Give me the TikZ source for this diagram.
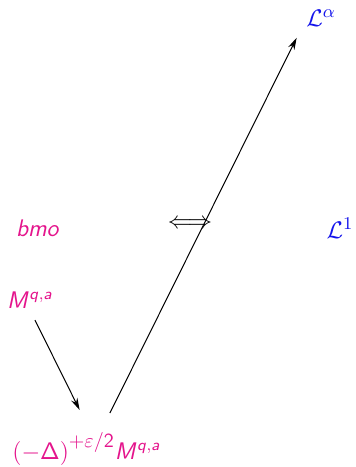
\documentclass[tikz,border=0pt]{standalone}
\usetikzlibrary{arrows.meta}
\DeclareMathAlphabet{\mathsfit}{OT1}{cmss}{m}{sl}
\definecolor{mag}{RGB}{228,20,140}
\definecolor{blu}{RGB}{20,20,235}
\begin{document}
\begin{tikzpicture}[x=0.5pt,y=-0.5pt,
  lbl/.style={inner sep=1pt,font=\fontsize{12}{14}\selectfont},
  pink/.style={lbl,text=mag},
  bluel/.style={lbl,text=blu,font=\fontsize{13}{15}\selectfont},
  conn/.style={line width=0.5pt,-{Stealth[length=6pt,width=3.4pt]}}]
\useasboundingbox (0,0) rectangle (355,467);
\node[bluel] (La) at (321,18) {$\mathcal{L}^{\alpha}$};
\node[pink] (bmo) at (38,228) {$\mathsfit{bmo}$};
\node[lbl] (iff) at (190,224) {$\Longleftrightarrow$};
\node[bluel] (L1) at (340,228) {$\mathcal{L}^{1}$};
\node[pink] (Mqa) at (30,300) {$\mathsfit{M}^{\mathsfit{q},\mathsfit{a}}$};
\node[pink,anchor=base west] (D) at (10,459) {$\mathsf{(}{-}\mathsf{\Delta}\mathsf{)}^{\mbox{\fontsize{10}{12}\selectfont$+\varepsilon/\mathsf{2}$}}\mathsfit{M}^{\mathsfit{q},\mathsfit{a}}$};
\draw[conn,shorten <=11.2pt,shorten >=22.9pt] ([xshift=-2.5pt]Mqa.center) -- ([xshift=45pt,yshift=4pt]D.base west);
\draw[conn,shorten <=21.2pt,shorten >=11.6pt] ([xshift=40.5pt,yshift=4pt]D.base west) -- ([xshift=-7pt,yshift=0.5pt]La.center);
\end{tikzpicture}
\end{document}
